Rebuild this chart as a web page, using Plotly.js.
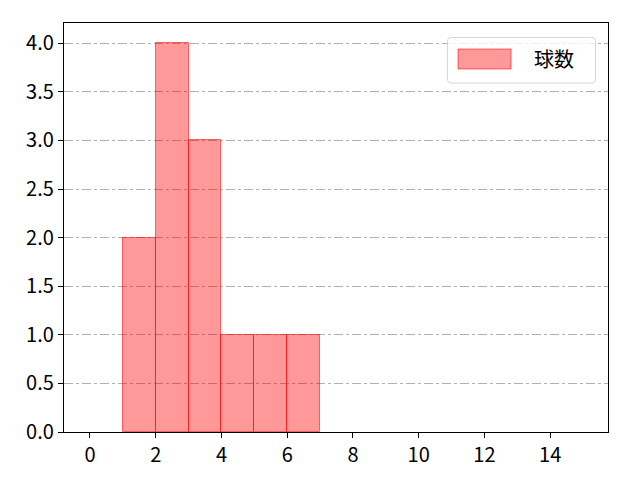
<!DOCTYPE html>
<html><head><meta charset="utf-8">
<script src="https://cdn.plot.ly/plotly-3.0.1.min.js"></script>
<style>body{margin:0}</style></head>
<body><div id="chart" style="width:640px;height:480px"></div>
<script>
const binStarts = [1, 2, 3, 4, 5, 6];
const counts = [2, 4, 3, 1, 1, 1];
const seriesName = "球数";
const xTicks = [0, 2, 4, 6, 8, 10, 12, 14];
const yTicks = [0, 0.5, 1, 1.5, 2, 2.5, 3, 3.5, 4];

const font = "'Noto Sans CJK JP', 'DejaVu Sans', sans-serif";
const M = {l: 64, r: 32, t: 23, b: 48};
const W = 640, H = 480;
const pw = W - M.l - M.r, ph = H - M.t - M.b;
const px = x => (x - M.l) / pw;
const py = y => (H - M.b - y) / ph;

// legend box (rounded) in paper coords
function roundRect(x0, y0, x1, y1, r) {
  const P = (x, y) => px(x).toFixed(5) + ',' + py(y).toFixed(5);
  return 'M' + P(x0 + r, y0) + ' L' + P(x1 - r, y0) + ' Q' + P(x1, y0) + ' ' + P(x1, y0 + r) +
    ' L' + P(x1, y1 - r) + ' Q' + P(x1, y1) + ' ' + P(x1 - r, y1) +
    ' L' + P(x0 + r, y1) + ' Q' + P(x0, y1) + ' ' + P(x0, y1 - r) +
    ' L' + P(x0, y0 + r) + ' Q' + P(x0, y0) + ' ' + P(x0 + r, y0) + ' Z';
}

const barColor = 'rgba(255,0,0,0.4)';
const edgeColor = 'rgba(255,0,0,0.55)';

Plotly.newPlot('chart', [{
  type: 'bar',
  x: binStarts,
  y: counts,
  width: binStarts.map(() => 1),
  offset: 0,
  name: seriesName,
  showlegend: false,
  marker: {color: barColor, line: {color: edgeColor, width: 1}}
}], {
  width: W, height: H,
  margin: M,
  paper_bgcolor: 'white', plot_bgcolor: 'white',
  font: {family: font, size: 20, color: '#000'},
  bargap: 0,
  xaxis: {
    range: [-0.79, 15.76], tickvals: xTicks, ticktext: xTicks.map(String),
    showgrid: false, zeroline: false, showline: true, mirror: true,
    linecolor: '#000', linewidth: 1.3, ticks: 'outside', ticklen: 5, tickcolor: '#000'
  },
  yaxis: {
    range: [0, 4.209], tickvals: yTicks, ticktext: yTicks.map(v => v.toFixed(1)),
    showgrid: true, gridcolor: '#b0b0b0', griddash: 'dashdot', gridwidth: 1,
    zeroline: false, showline: true, mirror: true,
    linecolor: '#000', linewidth: 1.3, ticks: 'outside', ticklen: 5, tickcolor: '#000'
  },
  shapes: [
    {type: 'path', xref: 'paper', yref: 'paper', path: roundRect(447.5, 37.5, 595.5, 83, 4),
     fillcolor: 'rgba(255,255,255,0.8)', line: {color: '#d6d6d6', width: 1}},
    {type: 'rect', xref: 'paper', yref: 'paper', x0: px(458), x1: px(511), y0: py(49), y1: py(69),
     fillcolor: barColor, line: {color: edgeColor, width: 1}}
  ],
  annotations: [
    {xref: 'paper', yref: 'paper', x: px(532), y: py(59), xanchor: 'left', yanchor: 'middle',
     text: seriesName, showarrow: false, font: {family: font, size: 20, color: '#000'}}
  ]
}, {displayModeBar: false});
</script></body></html>
